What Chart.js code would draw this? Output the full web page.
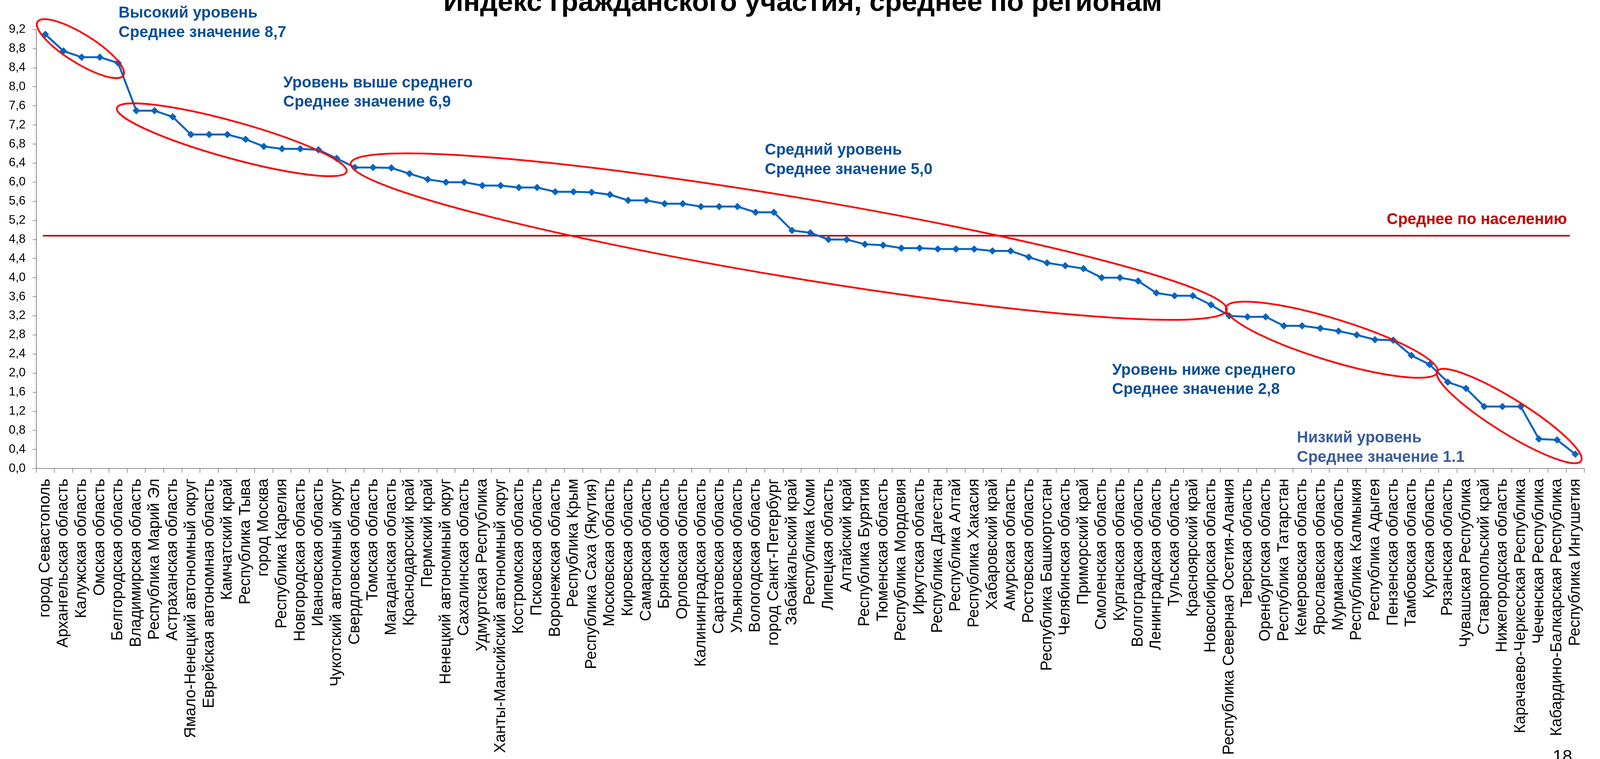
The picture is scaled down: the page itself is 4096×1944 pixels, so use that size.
<!DOCTYPE html>
<html><head><meta charset="utf-8">
<script src="https://cdn.jsdelivr.net/npm/chart.js@4.4.1/dist/chart.umd.min.js"></script>
<style>html,body{margin:0;padding:0;background:#fff;overflow:hidden}canvas{display:block}</style>
</head><body>
<canvas id="c" width="4096" height="1944"></canvas>
<script>
const categories = [
 'город Севастополь','Архангельская область','Калужская область','Омская область','Белгородская область',
 'Владимирская область','Республика Марий Эл','Астраханская область','Ямало-Ненецкий автономный округ','Еврейская автономная область',
 'Камчатский край','Республика Тыва','город Москва','Республика Карелия','Новгородская область',
 'Ивановская область','Чукотский автономный округ','Свердловская область','Томская область','Магаданская область',
 'Краснодарский край','Пермский край','Ненецкий автономный округ','Сахалинская область','Удмуртская Республика',
 'Ханты-Мансийский автономный округ','Костромская область','Псковская область','Воронежская область','Республика Крым',
 'Республика Саха (Якутия)','Московская область','Кировская область','Самарская область','Брянская область',
 'Орловская область','Калининградская область','Саратовская область','Ульяновская область','Вологодская область',
 'город Санкт-Петербург','Забайкальский край','Республика Коми','Липецкая область','Алтайский край',
 'Республика Бурятия','Тюменская область','Республика Мордовия','Иркутская область','Республика Дагестан',
 'Республика Алтай','Республика Хакасия','Хабаровский край','Амурская область','Ростовская область',
 'Республика Башкортостан','Челябинская область','Приморский край','Смоленская область','Курганская область',
 'Волгоградская область','Ленинградская область','Тульская область','Красноярский край','Новосибирская область',
 'Республика Северная Осетия-Алания','Тверская область','Оренбургская область','Республика Татарстан','Кемеровская область',
 'Ярославская область','Мурманская область','Республика Калмыкия','Республика Адыгея','Пензенская область',
 'Тамбовская область','Курская область','Рязанская область','Чувашская Республика','Ставропольский край',
 'Нижегородская область','Карачаево-Черкесская Республика','Чеченская Республика','Кабардино-Балкарская Республика','Республика Ингушетия'
];
const values = [
 9.10, 8.75, 8.62, 8.62, 8.50,
 7.50, 7.50, 7.37, 7.00, 7.00,
 7.00, 6.90, 6.75, 6.70, 6.70,
 6.68, 6.50, 6.31, 6.31, 6.30,
 6.18, 6.06, 6.00, 6.00, 5.93,
 5.93, 5.89, 5.89, 5.80, 5.80,
 5.79, 5.74, 5.62, 5.62, 5.55,
 5.55, 5.49, 5.49, 5.49, 5.37,
 5.37, 4.99, 4.94, 4.80, 4.80,
 4.70, 4.68, 4.62, 4.62, 4.60,
 4.60, 4.60, 4.56, 4.56, 4.43,
 4.31, 4.25, 4.19, 4.00, 4.00,
 3.93, 3.68, 3.62, 3.62, 3.43,
 3.20, 3.18, 3.18, 2.99, 2.99,
 2.94, 2.88, 2.80, 2.70, 2.69,
 2.37, 2.18, 1.81, 1.68, 1.30,
 1.30, 1.30, 0.62, 0.60, 0.30
];
const populationAverage = 4.88;
const yMin = 0, yMax = 9.2, yStep = 0.2;
const titleText = 'Индекс гражданского участия, среднее по регионам';
const averageLabel = 'Среднее по населению';
const pageNumber = '18';
const groupTexts = [
 ['Высокий уровень', 'Среднее значение 8,7'],
 ['Уровень выше среднего', 'Среднее значение 6,9'],
 ['Средний уровень', 'Среднее значение 5,0'],
 ['Уровень ниже среднего', 'Среднее значение 2,8'],
 ['Низкий уровень', 'Среднее значение 1.1']
];

// ---- layout / styling (not data) ----
const FONT = '"Liberation Sans", Arial, sans-serif';
const groupTextStyle = [
 {x: 303.6, y: 45.4, color: '#0B4F96'},
 {x: 725, y: 223.7, color: '#0B4F96'},
 {x: 1958, y: 396, color: '#0B4F96'},
 {x: 2847, y: 959.6, color: '#0B4F96'},
 {x: 3320, y: 1133, color: '#3A5D9C'}
];
const lineGap = 49.6;
// ellipses: centre in (category index, value) units, radii in px, angle in degrees
const groupEllipses = [
 {cx: 1.93, cy: 8.80, rx: 129.5, ry: 37, angle: 32},
 {cx: 10.24, cy: 6.89, rx: 305, ry: 47, angle: 15.5},
 {cx: 40.82, cy: 4.86, rx: 1137, ry: 102.6, angle: 9.5},
 {cx: 70.63, cy: 2.70, rx: 283.4, ry: 53.8, angle: 17},
 {cx: 80.37, cy: 1.10, rx: 217, ry: 43.7, angle: 32}
];

const overlay = {
  id: 'overlay',
  beforeDatasetsDraw(chart) {
    const ctx = chart.ctx, y = chart.scales.y, x = chart.scales.x;
    const py = y.getPixelForValue(populationAverage);
    ctx.save();
    ctx.strokeStyle = '#C00000';
    ctx.lineWidth = 4;
    ctx.beginPath();
    ctx.moveTo(x.getPixelForValue(0) - 6, py);
    ctx.lineTo(x.getPixelForValue(categories.length - 1) - 14, py);
    ctx.stroke();
    ctx.restore();
  },
  afterDraw(chart) {
    const ctx = chart.ctx, xs = chart.scales.x, ys = chart.scales.y;
    ctx.save();
    ctx.strokeStyle = '#FF0000';
    ctx.lineWidth = 4.5;
    const step = xs.getPixelForValue(1) - xs.getPixelForValue(0);
    groupEllipses.forEach(e => {
      const px = xs.getPixelForValue(0) + e.cx * step;
      const py = ys.getPixelForValue(e.cy);
      ctx.beginPath();
      ctx.ellipse(px, py, e.rx, e.ry, e.angle * Math.PI / 180, 0, Math.PI * 2);
      ctx.stroke();
    });
    ctx.textAlign = 'left';
    ctx.textBaseline = 'alphabetic';
    ctx.font = 'bold 40px ' + FONT;
    groupTexts.forEach((lines, i) => {
      const s = groupTextStyle[i];
      ctx.fillStyle = s.color;
      lines.forEach((t, j) => ctx.fillText(t, s.x, s.y + j * lineGap));
    });
    ctx.fillStyle = '#C00000';
    ctx.fillText(averageLabel, 3550, 574.4);
    ctx.fillStyle = '#000000';
    ctx.textAlign = 'center';
    ctx.font = 'bold 71px ' + FONT;
    ctx.fillText(titleText, 2055, 28);
    ctx.font = '45px ' + FONT;
    ctx.fillText(pageNumber, 4000, 1952);
    ctx.restore();
  }
};

new Chart(document.getElementById('c'), {
  type: 'line',
  data: {
    labels: categories,
    datasets: [{
      data: values,
      borderColor: '#0563C1',
      backgroundColor: '#0563C1',
      borderWidth: 5,
      pointStyle: 'rectRot',
      pointRadius: 9,
      pointBorderWidth: 1,
      pointBackgroundColor: '#0563C1',
      pointBorderColor: '#0563C1',
      tension: 0,
      clip: false
    }]
  },
  options: {
    responsive: false,
    animation: false,
    devicePixelRatio: 1,
    events: [],
    layout: {padding: {top: 75.7, right: 38, left: 0, bottom: 0}},
    plugins: {legend: {display: false}, tooltip: {enabled: false}, title: {display: false}},
    scales: {
      x: {
        type: 'category',
        offset: true,
        grid: {display: true, offset: true, drawOnChartArea: false, drawTicks: true, tickLength: 11, color: '#888888', lineWidth: 1.7},
        border: {display: true, color: '#888888', width: 2},
        ticks: {autoSkip: false, maxRotation: 90, minRotation: 90, padding: 15, color: '#000000', font: {family: FONT, size: 40}},
        afterFit(s) { s.height = 744; }
      },
      y: {
        min: yMin, max: yMax,
        ticks: {stepSize: yStep, padding: 18, color: '#000000', font: {family: FONT, size: 31},
          callback: v => Number(v).toFixed(1).replace('.', ',')},
        grid: {display: true, drawOnChartArea: false, drawTicks: true, tickLength: 9, color: '#888888', lineWidth: 1.7},
        border: {display: true, color: '#888888', width: 2},
        afterFit(s) { s.width = 92.5; }
      }
    }
  },
  plugins: [overlay]
});
</script>
</body></html>
